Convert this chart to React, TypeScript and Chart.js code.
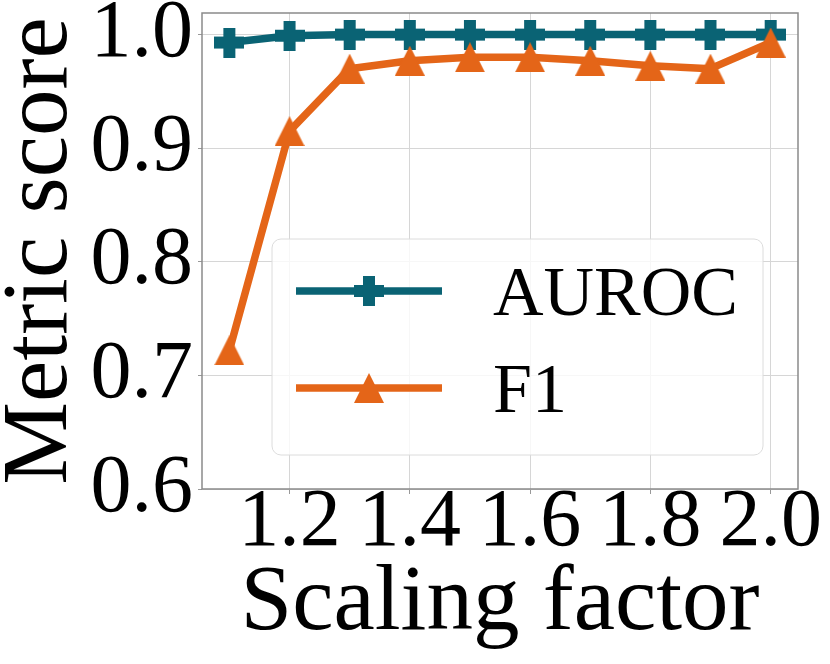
import React, { useEffect, useRef } from "react";
import { Chart, registerables } from "chart.js";

Chart.register(...registerables);

const scalingFactors = [1.1, 1.2, 1.3, 1.4, 1.5, 1.6, 1.7, 1.8, 1.9, 2.0];
const aurocValues = [0.993, 0.999, 1.0, 1.0, 1.0, 1.0, 1.0, 1.0, 1.0, 1.0];
const f1Values = [0.722, 0.915, 0.97, 0.977, 0.98, 0.98, 0.977, 0.9725, 0.97, 0.993];
const xTickValues = [1.2, 1.4, 1.6, 1.8, 2.0];
const yTickValues = [0.6, 0.7, 0.8, 0.9, 1.0];
const seriesNames = ["AUROC", "F1"];

const TEAL = "#0a6374";
const ORANGE = "#e46518";
const SERIF = '"Liberation Serif", "Times New Roman", Times, serif';

function makeTriangle(color: string, size: number) {
  const c = document.createElement("canvas");
  c.width = size;
  c.height = size;
  const g = c.getContext("2d")!;
  g.fillStyle = color;
  g.beginPath();
  g.moveTo(size / 2, 0);
  g.lineTo(size, size);
  g.lineTo(0, size);
  g.closePath();
  g.fill();
  return c;
}

function makePlus(color: string, size: number, arm: number) {
  const c = document.createElement("canvas");
  c.width = size;
  c.height = size;
  const g = c.getContext("2d")!;
  g.fillStyle = color;
  const o = (size - arm) / 2;
  g.fillRect(o, 0, arm, size);
  g.fillRect(0, o, size, arm);
  return c;
}

export default function App() {
  const ref = useRef<HTMLCanvasElement | null>(null);

  useEffect(() => {
    let chart: any = null;
    let cancelled = false;

    const build = () => {
      if (cancelled || !ref.current) return;
      const tri = makeTriangle(ORANGE, 30);
      const plus = makePlus(TEAL, 30, 12);

      const framePlugin = {
        id: "frame",
        afterDatasetsDraw(c: any) {
          const { ctx, chartArea: a } = c;
          ctx.save();
          ctx.strokeStyle = "#8a8a8a";
          ctx.lineWidth = 1.5;
          ctx.strokeRect(a.left, a.top, a.right - a.left, a.bottom - a.top);
          ctx.restore();
        },
      };

      const legendPlugin = {
        id: "innerLegend",
        afterDraw(c: any) {
          const { ctx, chartArea: a } = c;
          const bx = a.left + 70;
          const by = a.top + 226;
          const bw = 491;
          const bh = 216;
          ctx.save();
          ctx.beginPath();
          (ctx as any).roundRect(bx, by, bw, bh, 9);
          ctx.fillStyle = "rgba(255,255,255,0.8)";
          ctx.fill();
          ctx.strokeStyle = "#dcdcdc";
          ctx.lineWidth = 1;
          ctx.stroke();
          const rows = [by + 52, by + 149];
          c.data.datasets.forEach((ds: any, i: number) => {
            const y = rows[i];
            ctx.strokeStyle = ds.borderColor;
            ctx.lineWidth = 7.5;
            ctx.lineCap = "butt";
            ctx.beginPath();
            ctx.moveTo(bx + 24, y);
            ctx.lineTo(bx + 170, y);
            ctx.stroke();
            const img = ds.pointStyle as HTMLCanvasElement;
            ctx.drawImage(img, bx + 97 - img.width / 2, y - img.height / 2);
            ctx.fillStyle = "#000";
            ctx.font = `70px ${SERIF}`;
            ctx.textBaseline = "alphabetic";
            ctx.textAlign = "left";
            ctx.fillText(ds.label, bx + 221, y + 24);
          });
          ctx.restore();
        },
      };

      chart = new Chart(ref.current, {
        type: "line",
        data: {
          datasets: [
            {
              label: seriesNames[0],
              data: scalingFactors.map((x, i) => ({ x, y: aurocValues[i] })),
              borderColor: TEAL,
              backgroundColor: TEAL,
              borderWidth: 7.5,
              borderJoinStyle: "round",
              pointStyle: plus as any,
              pointRadius: 1,
              pointBorderWidth: 0,
              pointHoverRadius: 1,
              order: 2,
            },
            {
              label: seriesNames[1],
              data: scalingFactors.map((x, i) => ({ x, y: f1Values[i] })),
              borderColor: ORANGE,
              backgroundColor: ORANGE,
              borderWidth: 7.5,
              borderJoinStyle: "round",
              pointStyle: tri as any,
              pointRadius: 1,
              pointBorderWidth: 0,
              pointHoverRadius: 1,
              order: 1,
            },
          ],
        },
        options: {
          animation: false,
          responsive: false,
          devicePixelRatio: 1,
          layout: { padding: { left: 0, top: 13, right: 32, bottom: 0 } },
          plugins: {
            legend: { display: false },
            tooltip: { enabled: false },
          },
          scales: {
            x: {
              type: "linear",
              min: 1.0545,
              max: 2.0455,
              afterBuildTicks: (s: any) => {
                s.ticks = xTickValues.map((v) => ({ value: v }));
              },
              afterFit: (s: any) => {
                s.height = 175;
                s.paddingLeft = 0;
                s.paddingRight = 0;
              },
              grid: { color: "#d6d6d6", lineWidth: 1, tickLength: 5, tickColor: "#999" },
              border: { display: false },
              ticks: {
                color: "#000",
                font: { family: SERIF, size: 82, lineHeight: 0.8 },
                padding: -3,
                maxRotation: 0,
                autoSkip: false,
                callback: (v: any) => Number(v).toFixed(1),
              },
              title: {
                display: true,
                text: "Scaling factor",
                color: "#000",
                font: { family: SERIF, size: 93, lineHeight: 1.2 },
                padding: { top: 0, bottom: 4 },
              },
            },
            y: {
              type: "linear",
              min: 0.6,
              max: 1.019,
              afterBuildTicks: (s: any) => {
                s.ticks = yTickValues.map((v) => ({ value: v }));
              },
              afterFit: (s: any) => {
                s.width = 202;
                s.paddingTop = 0;
                s.paddingBottom = 0;
              },
              grid: { color: "#d6d6d6", lineWidth: 1, tickLength: 4, tickColor: "#999" },
              border: { display: false },
              ticks: {
                color: "#000",
                font: { family: SERIF, size: 82 },
                padding: 5,
                autoSkip: false,
                callback: (v: any) => Number(v).toFixed(1),
              },
              title: {
                display: true,
                text: "Metric score",
                color: "#000",
                font: { family: SERIF, size: 93, lineHeight: 0.9 },
                padding: { top: 0, bottom: 0 },
              },
            },
          },
        },
        plugins: [framePlugin, legendPlugin],
      } as any);
    };

    const fontsApi = (document as any).fonts;
    if (fontsApi && fontsApi.load) {
      Promise.all([
        fontsApi.load('82px "Liberation Serif"'),
        fontsApi.load('93px "Liberation Serif"'),
      ])
        .catch(() => null)
        .then(() => build());
    } else {
      build();
    }

    return () => {
      cancelled = true;
      if (chart) chart.destroy();
    };
  }, []);

  return (
    <div style={{ position: "absolute", left: 0, top: 0, width: 830, height: 664, background: "#fff" }}>
      <span style={{ position: "absolute", left: -9999, fontFamily: '"Liberation Serif"' }}>0.1 AUROC</span>
      <canvas ref={ref} width={830} height={664} style={{ width: 830, height: 664, display: "block" }} />
    </div>
  );
}
